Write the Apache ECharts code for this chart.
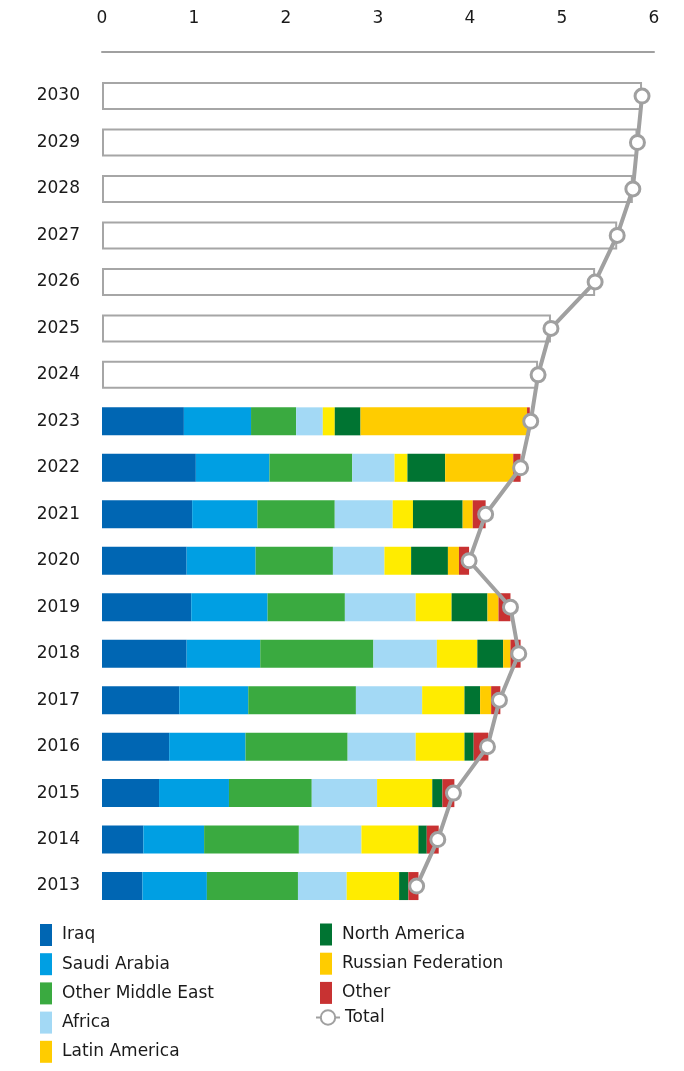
<!DOCTYPE html>
<html>
<head>
<meta charset="utf-8">
<script src="https://cdn.jsdelivr.net/npm/echarts@6/dist/echarts.min.js"></script>
<style>
html,body{margin:0;padding:0;background:#fff;}
#chart{width:684px;height:1071px;}
</style>
</head>
<body>
<div id="chart"></div>
<script>
const years = ['2013','2014','2015','2016','2017','2018','2019','2020','2021','2022','2023','2024','2025','2026','2027','2028','2029','2030'];
const xTicks = [0,1,2,3,4,5,6];
const iraq      = [0.44,0.45,0.62,0.73,0.84,0.92,0.97,0.92,0.98,1.02,0.89,null,null,null,null,null,null,null];
const saudi     = [0.70,0.66,0.76,0.83,0.75,0.80,0.83,0.75,0.71,0.80,0.73,null,null,null,null,null,null,null];
const otherME   = [0.99,1.03,0.90,1.11,1.17,1.23,0.84,0.84,0.84,0.90,0.49,null,null,null,null,null,null,null];
const africa    = [0.53,0.68,0.71,0.74,0.72,0.69,0.77,0.56,0.63,0.46,0.29,null,null,null,null,null,null,null];
const latinAm   = [0.57,0.62,0.60,0.53,0.46,0.44,0.39,0.29,0.22,0.14,0.13,null,null,null,null,null,null,null];
const northAm   = [0.10,0.09,0.11,0.10,0.17,0.28,0.39,0.40,0.54,0.41,0.28,null,null,null,null,null,null,null];
const russia    = [0.00,0.00,0.00,0.00,0.12,0.08,0.12,0.12,0.11,0.74,1.81,null,null,null,null,null,null,null];
const other     = [0.11,0.13,0.13,0.16,0.10,0.11,0.13,0.11,0.14,0.08,0.03,null,null,null,null,null,null,null];
const projection= [null,null,null,null,null,null,null,null,null,null,null,4.74,4.88,5.36,5.60,5.77,5.82,5.87];
const totals    = [3.42,3.65,3.82,4.19,4.32,4.53,4.44,3.99,4.17,4.55,4.66,4.74,4.88,5.36,5.60,5.77,5.82,5.87];

const FONT = '"DejaVu Sans", Verdana, sans-serif';
const GRAY = '#a0a0a0';
const TXT = '#1a1a1a';

const segs = [
  ['Iraq', iraq, '#0066b3'],
  ['Saudi Arabia', saudi, '#009fe3'],
  ['Other Middle East', otherME, '#3aaa40'],
  ['Africa', africa, '#a3d9f5'],
  ['Latin America', latinAm, '#ffec00'],
  ['North America', northAm, '#007432'],
  ['Russian Federation', russia, '#ffcc00'],
  ['Other', other, '#c83232']
];

const series = [{
  name: 'Projection', type: 'bar', stack: 'tot', data: projection, barWidth: 28,
  itemStyle: {color: '#ffffff', borderColor: '#a6a6a6', borderWidth: 2},
  emphasis: {disabled: true}
}];
segs.forEach(s => series.push({
  name: s[0], type: 'bar', stack: 'tot', data: s[1], barWidth: 28,
  itemStyle: {color: s[2]}, emphasis: {disabled: true}
}));
series.push({
  name: 'Total', type: 'line', data: totals, z: 10,
  symbol: 'circle', symbolSize: 14, showAllSymbol: true,
  lineStyle: {color: GRAY, width: 4},
  itemStyle: {color: '#ffffff', borderColor: GRAY, borderWidth: 3},
  emphasis: {disabled: true}
});

const legendCommon = {
  orient: 'vertical', itemWidth: 12, itemHeight: 22, itemGap: 7.2,
  selectedMode: false,
  textStyle: {fontFamily: FONT, fontSize: 17, color: TXT, padding: [0,0,0,5]}
};

const chart = echarts.init(document.getElementById('chart'), null, {renderer: 'canvas'});
chart.setOption({
  animation: false,
  backgroundColor: '#ffffff',
  grid: {left: 102, right: 30, top: 72.8, height: 836.5, containLabel: false},
  xAxis: {
    type: 'value', position: 'top', min: xTicks[0], max: xTicks[xTicks.length-1], interval: 1,
    offset: 21,
    axisLine: {show: true, lineStyle: {color: GRAY, width: 2}},
    axisTick: {show: false}, splitLine: {show: false},
    axisLabel: {fontFamily: FONT, fontSize: 17, color: TXT, margin: 25}
  },
  yAxis: {
    type: 'category', data: years,
    axisLine: {show: false}, axisTick: {show: false},
    axisLabel: {fontFamily: FONT, fontSize: 17, color: TXT, margin: 22}
  },
  legend: [
    Object.assign({}, legendCommon, {left: 35, top: 919, icon: 'rect',
      data: ['Iraq','Saudi Arabia','Other Middle East','Africa',
        {name: 'Latin America', itemStyle: {color: '#ffcc00'}}]}),
    Object.assign({}, legendCommon, {left: 315, top: 918.5, icon: 'rect',
      data: ['North America','Russian Federation','Other']}),
    Object.assign({}, legendCommon, {left: 310, top: 1004, itemWidth: 24, itemHeight: 18,
      textStyle: {fontFamily: FONT, fontSize: 17, color: TXT},
      data: ['Total']})
  ],
  series: series
});
</script>
</body>
</html>
